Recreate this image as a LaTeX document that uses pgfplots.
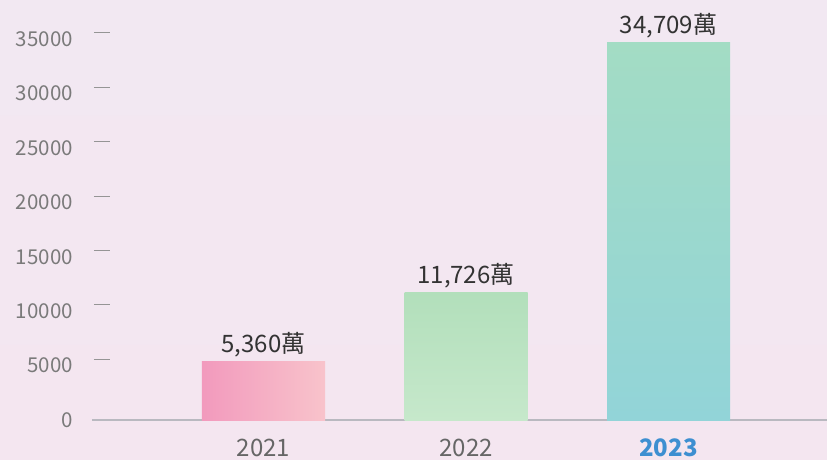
\documentclass[border=0pt]{standalone}
\usepackage{pgfplots}
\pgfplotsset{compat=1.18}
\usepackage{fontspec}
\setmainfont{Noto Sans CJK TC}
\definecolor{bgA}{HTML}{F4E6F0}
\definecolor{bgB}{HTML}{F2E8F2}
\definecolor{tickgray}{HTML}{7A7A7A}
\definecolor{labgray}{HTML}{666666}
\definecolor{valtext}{HTML}{333333}
\definecolor{hiblue}{HTML}{3D8FD1}
\definecolor{axisgray}{HTML}{B9B9C0}
\definecolor{pinkL}{HTML}{F29ABD}
\definecolor{pinkR}{HTML}{F8C3CB}
\definecolor{greenT}{HTML}{B2DFBB}
\definecolor{greenB}{HTML}{C6E8CB}
\definecolor{tealT}{HTML}{A3DCC4}
\definecolor{tealB}{HTML}{92D4D8}
\begin{document}
\begin{tikzpicture}
\useasboundingbox (0,0) rectangle (827pt,459pt);
\shade[top color=bgB, bottom color=bgA] (0,0) rectangle (827pt,459pt);
\begin{axis}[
  at={(92pt,39pt)}, anchor=south west,
  scale only axis, width=735pt, height=413.4pt,
  xmin=-0.8469, xmax=2.7827, ymin=0, ymax=38000,
  axis x line*=bottom, axis y line*=left,
  x axis line style={draw=axisgray, line width=1.1pt, -},
  y axis line style={draw=none},
  xtick={0,1,2}, xticklabels={2021,2022,\textbf{\color{hiblue}2023}},
  xtick style={draw=none},
  xticklabel style={anchor=base, inner sep=0pt, yshift=-36.5pt, font=\fontsize{24}{28}\selectfont, text=labgray},
  ytick={0,5000,...,35000},
  major tick style={draw=none},
  yticklabel style={anchor=east, inner sep=0pt, xshift=-19pt, font=\fontsize{20.5}{24}\selectfont, text=tickgray},
  scaled y ticks=false,
  /pgf/number format/assume math mode=true,
  y tick label style={/pgf/number format/.cd, 1000 sep={}, assume math mode=true},
  extra y ticks={5000,10000,...,35000},
  extra y tick labels={},
  extra y tick style={major tick style={draw=tickgray!80, line width=0.8pt, yshift=6.5pt, xshift=2pt}, tick align=inside, major tick length=16pt},
  nodes near coords={\pgfmathprintnumber[assume math mode=true, 1000 sep={,}]{\pgfplotspointmeta}萬},
  every node near coord/.append style={anchor=base, yshift=9pt, font=\fontsize{24}{28}\selectfont, text=valtext},
  clip=false,
]
\addplot[ybar, bar width=123pt, bar shift=0pt, draw=none, left color=pinkL, right color=pinkR] coordinates {(0,5360)};
\addplot[ybar, bar width=123pt, bar shift=0pt, draw=none, top color=greenT, bottom color=greenB] coordinates {(1,11726)};
\addplot[ybar, bar width=123pt, bar shift=0pt, draw=none, top color=tealT, bottom color=tealB] coordinates {(2,34709)};
\end{axis}
\end{tikzpicture}
\end{document}
